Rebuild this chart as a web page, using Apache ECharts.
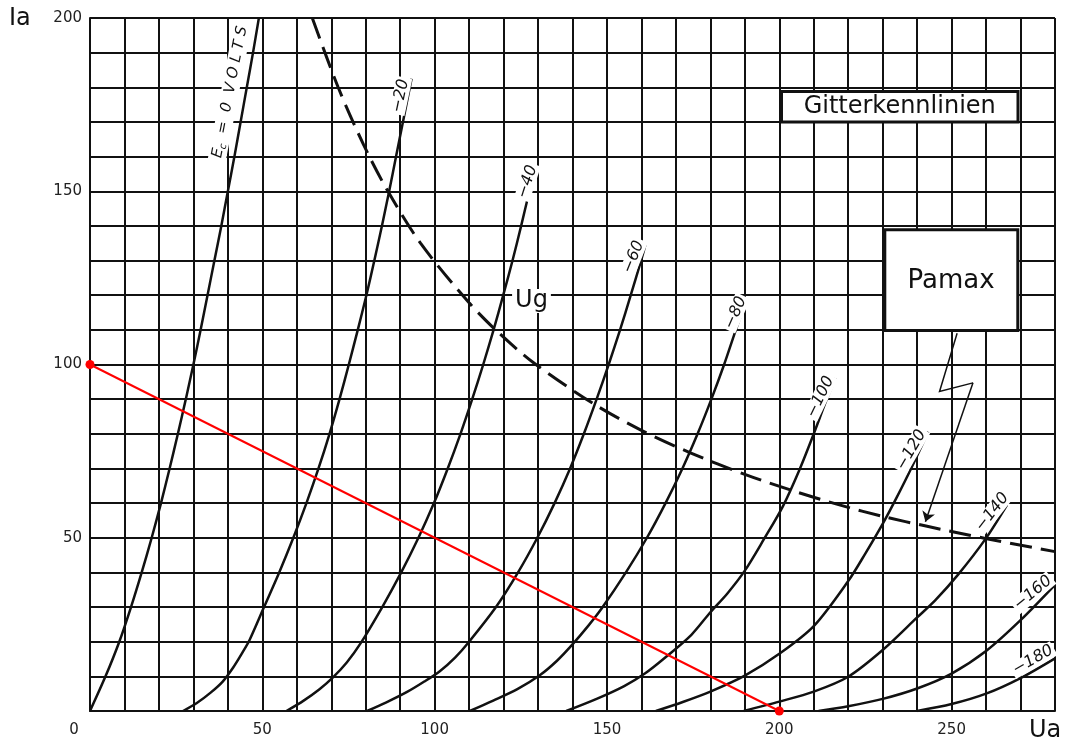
<!DOCTYPE html>
<html>
<head>
<meta charset="utf-8">
<title>Gitterkennlinien</title>
<script src="https://cdn.jsdelivr.net/npm/echarts@6/dist/echarts.min.js"></script>
<style>
  html, body { margin: 0; padding: 0; background: #fff; }
  #chart { width: 1067px; height: 749px; }
</style>
</head>
<body>
<div id="chart"></div>
<script>
// anode characteristics: Ia (mA) over Ua (V), one curve per grid voltage Ug
const gridVolts = ['0', '-20', '-40', '-60', '-80', '-100', '-120', '-140', '-160', '-180'];

const ug0   = [[0,0],[4.5,10],[8.5,20],[11.9,30],[15,40],[17.9,50],[20.6,60],[23.1,70],[25.5,80],[27.8,90],[30,100],[32.1,110],[34.1,120],[36.1,130],[38.1,140],[40,150],[41.9,160],[43.7,170],[45.5,180],[47.3,190],[49,200]];
const ug20  = [[27,0],[31,2.3],[35,5.3],[38.5,8.5],[41.5,12.5],[44,16.5],[46.3,20.5],[50.5,30],[54.9,40],[59,50],[62.8,60],[66.3,70],[69.5,80],[72.4,90],[75.1,100],[77.7,110],[80.2,120],[82.5,130],[84.7,140],[86.8,150],[88.8,160],[90.8,170],[93.3,182.5]];
const ug40  = [[57,0],[62,3],[66.5,6.2],[70.5,9.7],[74.5,14],[78.5,19.5],[84.8,30],[90.3,40],[95.3,50],[99.8,60],[103.8,70],[107.5,80],[110.9,90],[114.1,100],[117.1,110],[119.9,120],[122.6,130],[125.1,140],[127.5,150],[129.1,156]];
const ug60  = [[80.4,0],[86,2.5],[92,5.5],[97,8.5],[101.5,11.5],[106,15.5],[110,20],[117.8,30],[124.2,40],[129.8,50],[134.8,60],[139.3,70],[143.3,80],[147,90],[150.5,100],[153.8,110],[156.9,120],[159.9,130],[161.3,135]];
const ug80  = [[110.2,0],[117,3],[124,6.3],[130.5,10.3],[135.5,14.5],[139.8,19],[144.5,24.5],[148.4,29.5],[155.5,40],[161.6,50],[167,60],[171.9,70],[176.3,80],[180.3,90],[184,100],[187.4,110],[190.3,118]];
const ug100 = [[138.2,0],[147,3.5],[155,7.2],[161,10.8],[167,15.5],[174.5,22],[180,28.5],[185,34],[190,40.5],[195.5,49.5],[201,59],[205.8,69.5],[210,80],[213.8,90],[216.4,96]];
const ug120 = [[164.2,0],[172,2.6],[180,5.6],[190,10.2],[200,16.5],[210,24.5],[220,37.5],[225,45.5],[230,54],[234,61.5],[238.5,70.5],[243.2,80.6]];
const ug140 = [[189.7,0],[200,2.7],[210,5.6],[220,9.9],[230,17.6],[240,27],[245.3,32],[252,39.5],[259.8,49.6],[266.1,59.5]];
const ug160 = [[211.4,0],[220,1.4],[230,3.5],[240,6.5],[250,10.8],[260,17.3],[270,26.2],[280,36.4]];
const ug180 = [[240,0],[250,2],[260,5],[270,9.5],[280,15.2]];
const curves = [ug0, ug20, ug40, ug60, ug80, ug100, ug120, ug140, ug160, ug180];

// maximum anode dissipation (dashed hyperbola)
const pamax = [[64.5,200],[72,180],[79.4,163.4],[86.2,150.4],[95.9,135],[110,117.8],[118.1,109.6],[128.7,100.5],[146.2,88.6],[160,81],[174.2,74.5],[190,68.3],[203.2,63.8],[217.7,59.4],[230.3,56.1],[242.9,53.3],[259.8,49.8],[280,46]];

// load line
const loadLine = [[0,100],[200,0]];

// zig-zag pointer from the Pamax box to the hyperbola
const pointer = [[251.6,109],[246.5,92.2],[256.2,94.7],[242.4,54.6]];

const xTicks = [0, 50, 100, 150, 200, 250];
const yTicks = [50, 100, 150, 200];

// layout only: where each curve label sits (data coords) and its tilt
const labelAt = [[40.6,178.6,79],[90.1,177.5,78],[126.9,152.7,72],[157.7,131,68],[187.3,114.9,66],[211.9,90.6,64],[238.3,75.3,60],[261.8,57.4,52],[273.6,34.1,40],[273.6,14.7,30]];

const ink = '#111';
const font = 'DejaVu Sans';

const chart = echarts.init(document.getElementById('chart'));

const curveSeries = curves.map((pts, i) => ({
  name: 'Ug ' + gridVolts[i],
  type: 'line',
  data: pts,
  symbol: 'none',
  smooth: 0.3,
  lineStyle: { color: ink, width: 2.5 },
  z: 3
}));

const labelSeries = {
  type: 'scatter',
  symbolSize: 1,
  silent: true,
  itemStyle: { color: 'rgba(0,0,0,0)', opacity: 1 },
  z: 6,
  label: {
    show: true, position: 'inside', color: ink, opacity: 1,
    fontFamily: font, fontStyle: 'italic', fontSize: 16,
    backgroundColor: '#fff', padding: [0, 2]
  },
  data: gridVolts.map((v, i) => ({
    value: labelAt[i].slice(0, 2),
    label: {
      rotate: labelAt[i][2],
      formatter: i === 0 ? '{t|E}{s|c}{t|  =  0  V O L T S}' : v.replace('-', '\u2212'),
      rich: {
        t: { fontSize: 15, fontStyle: 'italic', fontFamily: font, color: ink },
        s: { fontSize: 10, fontStyle: 'italic', fontFamily: font, color: ink, padding: [8, 0, 0, 0] }
      }
    }
  }))
};

chart.setOption({
  animation: false,
  backgroundColor: '#fff',
  grid: { left: 90, right: 12, top: 18, bottom: 38 },
  xAxis: {
    type: 'value', min: 0, max: 280, interval: 10,
    axisLine: { show: true, onZero: false, lineStyle: { color: ink, width: 2 } },
    axisTick: { show: false },
    splitLine: { show: true, lineStyle: { color: ink, width: 2 } },
    axisLabel: {
      margin: 12, color: '#222', fontFamily: font, fontSize: 15,
      formatter: v => xTicks.includes(v) ? (v === 0 ? '{o|0}' : String(v)) : '',
      rich: { o: { padding: [0, 32, 0, 0], color: '#222', fontFamily: font, fontSize: 15 } }
    }
  },
  yAxis: {
    type: 'value', min: 0, max: 200, interval: 10,
    axisLine: { show: true, lineStyle: { color: ink, width: 2 } },
    axisTick: { show: false },
    splitLine: { show: true, lineStyle: { color: ink, width: 2 } },
    axisLabel: {
      margin: 8, color: '#222', fontFamily: font, fontSize: 15,
      formatter: v => yTicks.includes(v) ? String(v) : ''
    }
  },
  graphic: [
    { type: 'text', x: 9, y: 19, style: { text: 'Ia', fontFamily: font, fontSize: 24, fill: ink, verticalAlign: 'middle' } },
    { type: 'text', x: 1029, y: 731, style: { text: 'Ua', fontFamily: font, fontSize: 24, fill: ink, verticalAlign: 'middle' } },
    { type: 'rect', shape: { x: 781.5, y: 91.5, width: 236.5, height: 30.5 }, style: { fill: '#fff', stroke: ink, lineWidth: 3 }, z: 10 },
    { type: 'text', x: 899.7, y: 106.7, z: 11, style: { text: 'Gitterkennlinien', fontFamily: font, fontSize: 24, fill: ink, align: 'center', verticalAlign: 'middle' } },
    { type: 'rect', shape: { x: 884.8, y: 229.8, width: 133, height: 100.7 }, style: { fill: '#fff', stroke: ink, lineWidth: 3 }, z: 10 },
    { type: 'text', x: 951, y: 281.5, z: 11, style: { text: 'Pamax', fontFamily: font, fontSize: 26, fill: ink, align: 'center', verticalAlign: 'middle' } }
  ],
  series: [
    ...curveSeries,
    {
      name: 'Pamax', type: 'line', data: pamax, symbol: 'none',
      smooth: 0.3,
      lineStyle: { color: ink, width: 3, type: [22, 9] }, z: 3
    },
    {
      name: 'Arbeitsgerade', type: 'line', data: loadLine,
      symbol: 'circle', symbolSize: 9, clip: false,
      lineStyle: { color: '#f00', width: 2 }, itemStyle: { color: '#f00' }, z: 4
    },
    {
      type: 'lines', coordinateSystem: 'cartesian2d', polyline: true,
      data: [{ coords: pointer.slice(0, 3) }],
      lineStyle: { color: ink, width: 1.5, opacity: 1 }, z: 4
    },
    {
      type: 'lines', coordinateSystem: 'cartesian2d',
      data: [{ coords: pointer.slice(2) }],
      symbol: ['none', 'arrow'], symbolSize: 10,
      lineStyle: { color: ink, width: 1.5, opacity: 1 }, z: 4
    },
    labelSeries,
    {
      type: 'scatter', symbolSize: 1, silent: true,
      itemStyle: { color: 'rgba(0,0,0,0)', opacity: 1 }, z: 6,
      label: {
        show: true, position: 'inside', formatter: 'Ug', color: ink, opacity: 1,
        fontFamily: font, fontSize: 24, backgroundColor: '#fff', padding: [0, 3]
      },
      data: [[128.1, 118.3]]
    }
  ]
});
</script>
</body>
</html>
